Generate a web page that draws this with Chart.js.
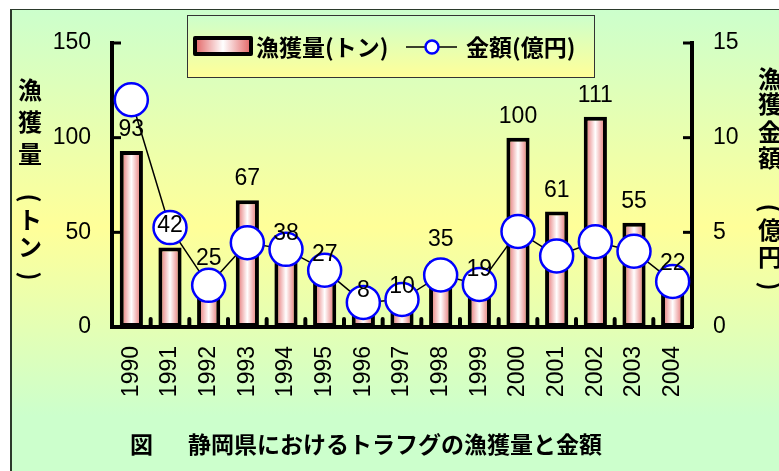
<!DOCTYPE html>
<html lang="ja">
<head>
  <meta charset="UTF-8">
  <title>静岡県におけるトラフグの漁獲量と金額</title>
  <script src="https://cdn.jsdelivr.net/npm/chart.js"></script>
  <style>
    html, body { margin: 0; padding: 0; background: #fff; }
    #wrap { width: 779px; height: 471px; }
  </style>
</head>
<body>
  <div id="wrap"><canvas id="chart" width="779" height="471"></canvas></div>

  <script>
    // data
    const years = ['1990', '1991', '1992', '1993', '1994', '1995', '1996', '1997',
                   '1998', '1999', '2000', '2001', '2002', '2003', '2004'];
    const catchTons = [93, 42, 25, 67, 38, 27, 8, 10, 35, 19, 100, 61, 111, 55, 22];
    const valueOku = [12, 5.25, 2.2, 4.45, 4.1, 3.0, 1.3, 1.45, 2.75, 2.25, 5.05, 3.75, 4.5, 4.0, 2.4];
    const leftAxis = { max: 150, step: 50 };
    const rightAxis = { max: 15, step: 5 };

    const NUM_FONT = "'Liberation Sans', Arial, sans-serif";
    const JP_FONT = "'Noto Sans CJK JP', 'Noto Sans CJK SC', sans-serif";

    function barGradient(ctx, x0, x1) {
      const g = ctx.createLinearGradient(x0, 0, x1, 0);
      g.addColorStop(0, '#e05a5a');
      g.addColorStop(0.5, '#ffffff');
      g.addColorStop(1, '#e05a5a');
      return g;
    }

    // page background with frame
    const background = {
      id: 'background',
      beforeDraw(chart) {
        const ctx = chart.ctx;
        ctx.save();
        ctx.fillStyle = '#fff';
        ctx.fillRect(0, 0, chart.width, chart.height);
        const g = ctx.createLinearGradient(0, 10, 0, chart.height);
        g.addColorStop(0, '#ccffcc');
        g.addColorStop(0.47, '#ffff99');
        g.addColorStop(0.88, '#ccffcc');
        g.addColorStop(1, '#ccffcc');
        ctx.fillStyle = g;
        ctx.fillRect(11, 10, chart.width - 11, chart.height - 10);
        ctx.fillStyle = '#2b3a2b';
        ctx.fillRect(10, 9, 2, chart.height - 9);
        ctx.fillRect(10, 9, chart.width - 10, 1);
        ctx.restore();
      }
    };

    // inward tick marks on all three axes
    const innerTicks = {
      id: 'innerTicks',
      beforeDatasetsDraw(chart) {
        const ctx = chart.ctx;
        const { left, right, bottom } = chart.chartArea;
        ctx.save();
        ctx.strokeStyle = '#000';
        ctx.lineWidth = 3;
        chart.scales.y.ticks.forEach(t => {
          const y = chart.scales.y.getPixelForValue(t.value);
          ctx.beginPath(); ctx.moveTo(left, y); ctx.lineTo(left + 9, y); ctx.stroke();
        });
        chart.scales.y2.ticks.forEach(t => {
          const y = chart.scales.y2.getPixelForValue(t.value);
          ctx.beginPath(); ctx.moveTo(right, y); ctx.lineTo(right - 9, y); ctx.stroke();
        });
        const xs = chart.scales.x;
        ctx.lineWidth = 4;
        ctx.lineCap = 'round';
        for (let i = 1; i < years.length; i++) {
          const x = (xs.getPixelForValue(i - 1) + xs.getPixelForValue(i)) / 2;
          ctx.beginPath(); ctx.moveTo(x, bottom); ctx.lineTo(x, bottom - 8); ctx.stroke();
        }
        ctx.restore();
      }
    };

    // value labels, legend and titles on top
    const overlay = {
      id: 'overlay',
      afterDraw(chart) {
        const ctx = chart.ctx;
        ctx.save();

        // bar value labels
        ctx.fillStyle = '#000';
        ctx.font = '23px ' + NUM_FONT;
        ctx.textAlign = 'center';
        ctx.textBaseline = 'alphabetic';
        chart.getDatasetMeta(1).data.forEach((bar, i) => {
          ctx.fillText(String(catchTons[i]), bar.x, bar.y - 15);
        });

        // legend box
        const lg = ctx.createLinearGradient(0, 15, 0, 77);
        lg.addColorStop(0, '#ccffcc');
        lg.addColorStop(1, '#ffff99');
        ctx.fillStyle = lg;
        ctx.fillRect(187, 15, 407, 62);
        ctx.strokeStyle = '#333';
        ctx.lineWidth = 1;
        ctx.strokeRect(187.5, 15.5, 407, 62);

        ctx.fillStyle = barGradient(ctx, 193, 253);
        ctx.fillRect(195, 38, 56, 16);
        ctx.strokeStyle = '#000';
        ctx.lineWidth = 4;
        ctx.lineJoin = 'round';
        ctx.strokeRect(195, 38, 56, 16);

        ctx.lineWidth = 1.5;
        ctx.beginPath(); ctx.moveTo(406, 47); ctx.lineTo(457, 47); ctx.stroke();
        ctx.beginPath(); ctx.arc(432, 47, 6.5, 0, Math.PI * 2);
        ctx.fillStyle = '#fff'; ctx.fill();
        ctx.strokeStyle = '#0000ff'; ctx.lineWidth = 2.5; ctx.stroke();

        ctx.fillStyle = '#000';
        ctx.font = 'bold 23px ' + JP_FONT;
        ctx.textAlign = 'left';
        ctx.textBaseline = 'middle';
        ctx.fillText('漁獲量(トン)', 256, 47);
        ctx.fillText('金額(億円)', 466, 47);

        // vertical axis titles
        ctx.font = 'bold 24px ' + JP_FONT;
        ctx.textAlign = 'center';
        const drawVertical = (x, items) => {
          items.forEach(([ch, y]) => {
            if (ch === '(' || ch === ')') {
              ctx.save();
              ctx.translate(x, y);
              ctx.rotate(Math.PI / 2);
              ctx.fillText(ch, 0, 0);
              ctx.restore();
            } else {
              ctx.fillText(ch, x, y);
            }
          });
        };
        drawVertical(30, [['漁', 90], ['獲', 122], ['量', 154], ['(', 198], ['ト', 220], ['ン', 247], [')', 276]]);
        drawVertical(770, [['漁', 79], ['獲', 104], ['金', 132], ['額', 158], ['(', 208], ['億', 230], ['円', 257], [')', 286]]);

        // figure caption
        ctx.font = 'bold 23px ' + JP_FONT;
        ctx.textAlign = 'left';
        ctx.fillText('図', 130, 444);
        ctx.fillText('静岡県におけるトラフグの漁獲量と金額', 188, 444);

        ctx.restore();
      }
    };

    Chart.defaults.font.family = NUM_FONT;
    Chart.defaults.font.size = 23;
    Chart.defaults.color = '#000';

    new Chart(document.getElementById('chart'), {
      data: {
        labels: years,
        datasets: [
          {
            type: 'line',
            label: '金額(億円)',
            data: valueOku,
            yAxisID: 'y2',
            borderColor: '#000',
            borderWidth: 1.5,
            tension: 0,
            pointRadius: 16.5,
            pointBorderWidth: 2.5,
            pointBorderColor: '#0000ff',
            pointBackgroundColor: '#ffffff',
            order: 1
          },
          {
            type: 'bar',
            label: '漁獲量(トン)',
            data: catchTons,
            yAxisID: 'y',
            borderColor: '#000',
            borderWidth: 4,
            borderSkipped: false,
            categoryPercentage: 1,
            barPercentage: 0.6,
            backgroundColor(c) {
              const xs = c.chart.scales.x;
              if (!xs || c.dataIndex === undefined) return '#f4a0a0';
              const cx = xs.getPixelForValue(c.dataIndex);
              const w = xs.width / years.length * 0.6;
              if (!isFinite(cx) || !isFinite(w) || w <= 0) return '#f4a0a0';
              return barGradient(c.chart.ctx, cx - w / 2, cx + w / 2);
            },
            order: 2
          }
        ]
      },
      options: {
        responsive: false,
        animation: false,
        layout: { padding: { top: 43, left: 0, right: 0, bottom: 0 } },
        plugins: { legend: { display: false }, tooltip: { enabled: false } },
        scales: {
          x: {
            type: 'category',
            offset: true,
            grid: { display: false, drawTicks: false },
            border: { display: true, color: '#000', width: 4 },
            ticks: { minRotation: 90, maxRotation: 90, padding: 19, autoSkip: false },
            afterFit(s) { s.height = 144; }
          },
          y: {
            position: 'left',
            min: 0,
            max: leftAxis.max,
            grid: { display: false, drawTicks: false },
            border: { display: true, color: '#000', width: 4 },
            ticks: { stepSize: leftAxis.step, padding: 21 },
            afterFit(s) { s.width = 112; }
          },
          y2: {
            position: 'right',
            min: 0,
            max: rightAxis.max,
            grid: { display: false, drawTicks: false },
            border: { display: true, color: '#000', width: 4 },
            ticks: { stepSize: rightAxis.step, padding: 21 },
            afterFit(s) { s.width = 87; }
          }
        }
      },
      plugins: [background, innerTicks, overlay]
    });
  </script>
</body>
</html>
